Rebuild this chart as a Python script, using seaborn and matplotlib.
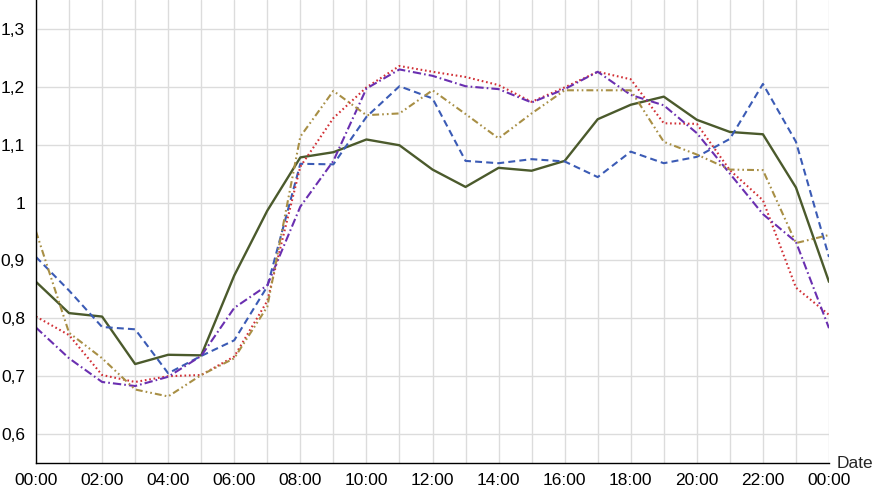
import numpy as np
import pandas as pd
import seaborn as sns
import matplotlib.pyplot as plt
from matplotlib.ticker import MultipleLocator, FuncFormatter

# hourly values, 00:00 .. 00:00 next day
hours = list(range(25))
hour_labels = ["00:00", "02:00", "04:00", "06:00", "08:00", "10:00", "12:00",
               "14:00", "16:00", "18:00", "20:00", "22:00", "00:00"]

solid_green = [0.863, 0.809, 0.803, 0.721, 0.737, 0.736, 0.874, 0.986, 1.078, 1.087,
               1.109, 1.099, 1.057, 1.027, 1.060, 1.055, 1.072, 1.144, 1.169, 1.183,
               1.143, 1.122, 1.118, 1.026, 0.863]
dashed_blue = [0.906, 0.848, 0.785, 0.781, 0.705, 0.735, 0.762, 0.855, 1.067, 1.066,
               1.148, 1.201, 1.180, 1.072, 1.068, 1.075, 1.071, 1.044, 1.088, 1.068,
               1.079, 1.110, 1.205, 1.105, 0.906]
dotted_red = [0.803, 0.771, 0.702, 0.690, 0.700, 0.702, 0.734, 0.830, 1.062, 1.146,
              1.199, 1.236, 1.226, 1.217, 1.203, 1.174, 1.199, 1.226, 1.213, 1.137,
              1.136, 1.056, 1.004, 0.853, 0.806]
dashdot_purple = [0.784, 0.731, 0.690, 0.683, 0.699, 0.735, 0.818, 0.857, 0.993, 1.072,
                  1.197, 1.230, 1.219, 1.201, 1.196, 1.173, 1.196, 1.226, 1.186, 1.168,
                  1.120, 1.050, 0.980, 0.932, 0.783]
dashdotdot_gold = [0.950, 0.775, 0.731, 0.677, 0.665, 0.702, 0.731, 0.820, 1.114, 1.193,
                   1.151, 1.154, 1.194, 1.153, 1.111, 1.154, 1.194, 1.194, 1.194, 1.105,
                   1.083, 1.057, 1.056, 0.930, 0.944]

series = [
    (solid_green, "#4b5a2c", "-", 1.7),
    (dashed_blue, "#3b5bb5", (0, (5, 3)), 1.5),
    (dotted_red, "#d12f35", (0, (1.2, 2)), 1.5),
    (dashdot_purple, "#6a2fb0", (0, (6, 2.2, 1.2, 2.2)), 1.5),
    (dashdotdot_gold, "#a88f45", (0, (5, 2.2, 1.2, 2.2, 1.2, 2.2)), 1.5),
]

sns.set_style("white")
plt.rcParams["font.family"] = ["Liberation Sans", "DejaVu Sans"]
plt.rcParams["lines.scale_dashes"] = False

fig = plt.figure(figsize=(8.74, 4.92), dpi=100)
ax = fig.add_axes([36 / 874, 29 / 492, 793 / 874, 463 / 492])

for values, color, ls, lw in series:
    df = pd.DataFrame({"hour": hours, "value": values})
    sns.lineplot(data=df, x="hour", y="value", color=color, linestyle=ls, linewidth=lw, ax=ax)

ax.set_xlim(0, 24)
ax.set_ylim(0.55, 1.35)
ax.set_xticks(range(0, 25, 2))
ax.set_xticklabels(hour_labels)
ax.xaxis.set_minor_locator(MultipleLocator(1))
ax.yaxis.set_major_locator(MultipleLocator(0.1))
ax.yaxis.set_minor_locator(MultipleLocator(0.05))
ax.yaxis.set_major_formatter(FuncFormatter(
    lambda v, p: "1" if abs(v - 1) < 1e-9 else f"{v:.1f}".replace(".", ",")))

ax.grid(True, which="major", axis="y", color="#dcdcdc", linewidth=1)
ax.grid(True, which="both", axis="x", color="#dcdcdc", linewidth=1)
ax.set_axisbelow(True)

for side in ["top", "right"]:
    ax.spines[side].set_visible(False)
for side in ["left", "bottom"]:
    ax.spines[side].set_color("black")
    ax.spines[side].set_linewidth(1)

ax.tick_params(axis="y", which="major", direction="out", length=5, width=1,
               colors="black", labelsize=12.5, pad=3)
ax.tick_params(axis="y", which="minor", direction="out", length=3, width=1, colors="black")
ax.tick_params(axis="x", which="both", direction="out", length=3.5, width=1,
               colors="black", labelsize=12.5, pad=4)
ax.set_xlabel("")
ax.set_ylabel("")

fig.text(837 / 874, 1 - 463 / 492, "Date", fontsize=12.5, ha="left", va="center")

plt.savefig("out.png", dpi=100)
plt.close()
